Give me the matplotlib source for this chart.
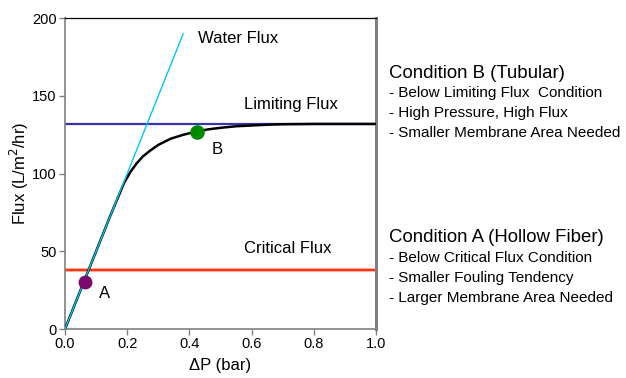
import numpy as np
from matplotlib import pyplot as plt

plt.rcParams['font.family'] = ['Liberation Sans', 'DejaVu Sans']

# flux curve
dp = [0.0, 0.05, 0.10, 0.15, 0.19, 0.21, 0.23, 0.25, 0.275, 0.30, 0.34,
      0.38, 0.42, 0.46, 0.50, 0.55, 0.60, 0.65, 0.70, 0.80, 1.0]
flux = [0.0, 25.0, 50.0, 75.0, 94.0, 101.0, 106.5, 111.0, 115.0, 118.5, 122.5,
        125.0, 127.0, 128.5, 129.5, 130.5, 131.0, 131.5, 131.8, 132.0, 132.0]

water_dp = [0.0, 0.38]
water_flux = [0.0, 190.0]

limiting_flux = 132.0
critical_flux = 38.0

point_a = (0.064, 30.0)
point_b = (0.423, 127.0)

xticks = [0.0, 0.2, 0.4, 0.6, 0.8, 1.0]
yticks = [0, 50, 100, 150, 200]

cond_b = ["Condition B (Tubular)", "- Below Limiting Flux  Condition",
          "- High Pressure, High Flux", "- Smaller Membrane Area Needed"]
cond_a = ["Condition A (Hollow Fiber)", "- Below Critical Flux Condition",
          "- Smaller Fouling Tendency", "- Larger Membrane Area Needed"]

fig = plt.figure(figsize=(6.26, 3.78), dpi=100)
ax = fig.add_axes([0.1038, 0.1296, 0.4968, 0.822])

ax.plot(dp, flux, color='black', lw=1.8, zorder=3)
ax.plot(water_dp, water_flux, color='#00c8f0', lw=1.0, zorder=4)
ax.axhline(limiting_flux, color='#3434b0', lw=1.6, zorder=2)
ax.axhline(critical_flux, color='#ffb0a0', lw=3.0, zorder=1)
ax.axhline(critical_flux, color='#ff3010', lw=1.4, zorder=2)

ax.plot(*point_a, 'o', color='#7a0a6e', ms=9, zorder=5)
ax.plot(*point_b, 'o', color='#008a00', ms=9.5, zorder=5)

fs = 12
ax.text(0.427, 184, "Water Flux", fontsize=fs, va='baseline')
ax.text(0.577, 141.4, "Limiting Flux", fontsize=fs, va='baseline')
ax.text(0.577, 49.1, "Critical Flux", fontsize=fs, va='baseline')
ax.text(0.472, 112.5, "B", fontsize=fs, va='baseline')
ax.text(0.109, 19.8, "A", fontsize=fs, va='baseline')

ax.set_xlim(0, 1.0)
ax.set_ylim(0, 200)
ax.set_xticks(xticks)
ax.set_xticklabels([f"{t:.1f}" for t in xticks])
ax.set_yticks(yticks)
ax.tick_params(labelsize=10.5, direction='out', length=4, width=1,
               color='#808080', pad=2)

for side in ['left', 'bottom']:
    ax.spines[side].set_color('#808080')
    ax.spines[side].set_linewidth(1.2)
ax.spines['right'].set_color('#808080')
ax.spines['right'].set_linewidth(2.2)
ax.spines['top'].set_color('black')
ax.spines['top'].set_linewidth(0.9)

ax.set_xlabel("\u0394P (bar)", fontsize=12, labelpad=5)
ax.set_ylabel("Flux (L/m$^2$/hr)", fontsize=12, labelpad=1)

x0 = 389 / 626
for lines, ys in [(cond_b, [78.3, 97.5, 117.0, 137.0]),
                  (cond_a, [241.7, 261.7, 281.7, 301.7])]:
    for i, (txt, yp) in enumerate(zip(lines, ys)):
        fig.text(x0, 1 - yp / 378, txt, fontsize=13.4 if i == 0 else 11,
                 va='baseline', ha='left')

fig.savefig("out.png", dpi=100)
